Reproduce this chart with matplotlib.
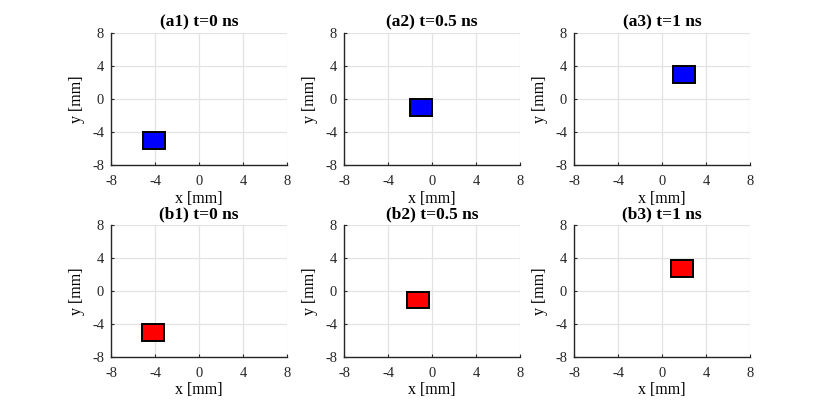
import numpy as np
import matplotlib
matplotlib.use("Agg")
import matplotlib.pyplot as plt
from matplotlib.patches import Rectangle

# ---------------- DATA ----------------
titles = ["(a1) t=0 ns", "(a2) t=0.5 ns", "(a3) t=1 ns",
          "(b1) t=0 ns", "(b2) t=0.5 ns", "(b3) t=1 ns"]
# lower-left corner of each square [mm]
box_x = [-5.1, -2.0, 1.0, -5.2, -2.3, 0.8]
box_y = [-6.0, -2.0, 2.0, -6.0, -2.1, 1.7]
box_w = 2.0
box_h = 2.0
box_colors = ["#0000ff", "#0000ff", "#0000ff", "#ff0000", "#ff0000", "#ff0000"]
ticks = [-8, -4, 0, 4, 8]
# --------------------------------------

plt.rcParams['font.family'] = ['Liberation Serif', 'DejaVu Serif']
plt.rcParams['axes.unicode_minus'] = False

W, H = 830, 407
fig = plt.figure(figsize=(W / 100, H / 100), dpi=100)

lefts = [111, 344, 574]
tops = [33, 225]
aw, ah = 176, 132

for k in range(6):
    r, c = divmod(k, 3)
    ax = fig.add_axes([lefts[c] / W, 1 - (tops[r] + ah) / H, aw / W, ah / H])
    ax.set_xlim(-8, 8)
    ax.set_ylim(-8, 8)
    ax.set_xticks(ticks)
    ax.set_yticks(ticks)
    ax.grid(True, color='#e3e3e3', linewidth=0.9)
    ax.set_axisbelow(True)
    for s in ['top', 'right']:
        ax.spines[s].set_visible(False)
    for s in ['left', 'bottom']:
        ax.spines[s].set_linewidth(1.0)
        ax.spines[s].set_color('#262626')
    ax.tick_params(direction='in', length=2.5, width=0.8, labelsize=10.5,
                   colors='#262626')
    ax.tick_params(axis='x', pad=7)
    ax.tick_params(axis='y', pad=5)
    ax.add_patch(Rectangle((box_x[k], box_y[k]), box_w, box_h,
                           facecolor=box_colors[k], edgecolor='black',
                           linewidth=1.4, zorder=3))
    ax.set_title(titles[k], fontsize=12.5, fontweight='bold', pad=5)
    ax.set_xlabel("x [mm]", fontsize=11.5, labelpad=2)
    ax.set_ylabel("y [mm]", fontsize=11.5, labelpad=5)

fig.savefig("out.png", dpi=100)
